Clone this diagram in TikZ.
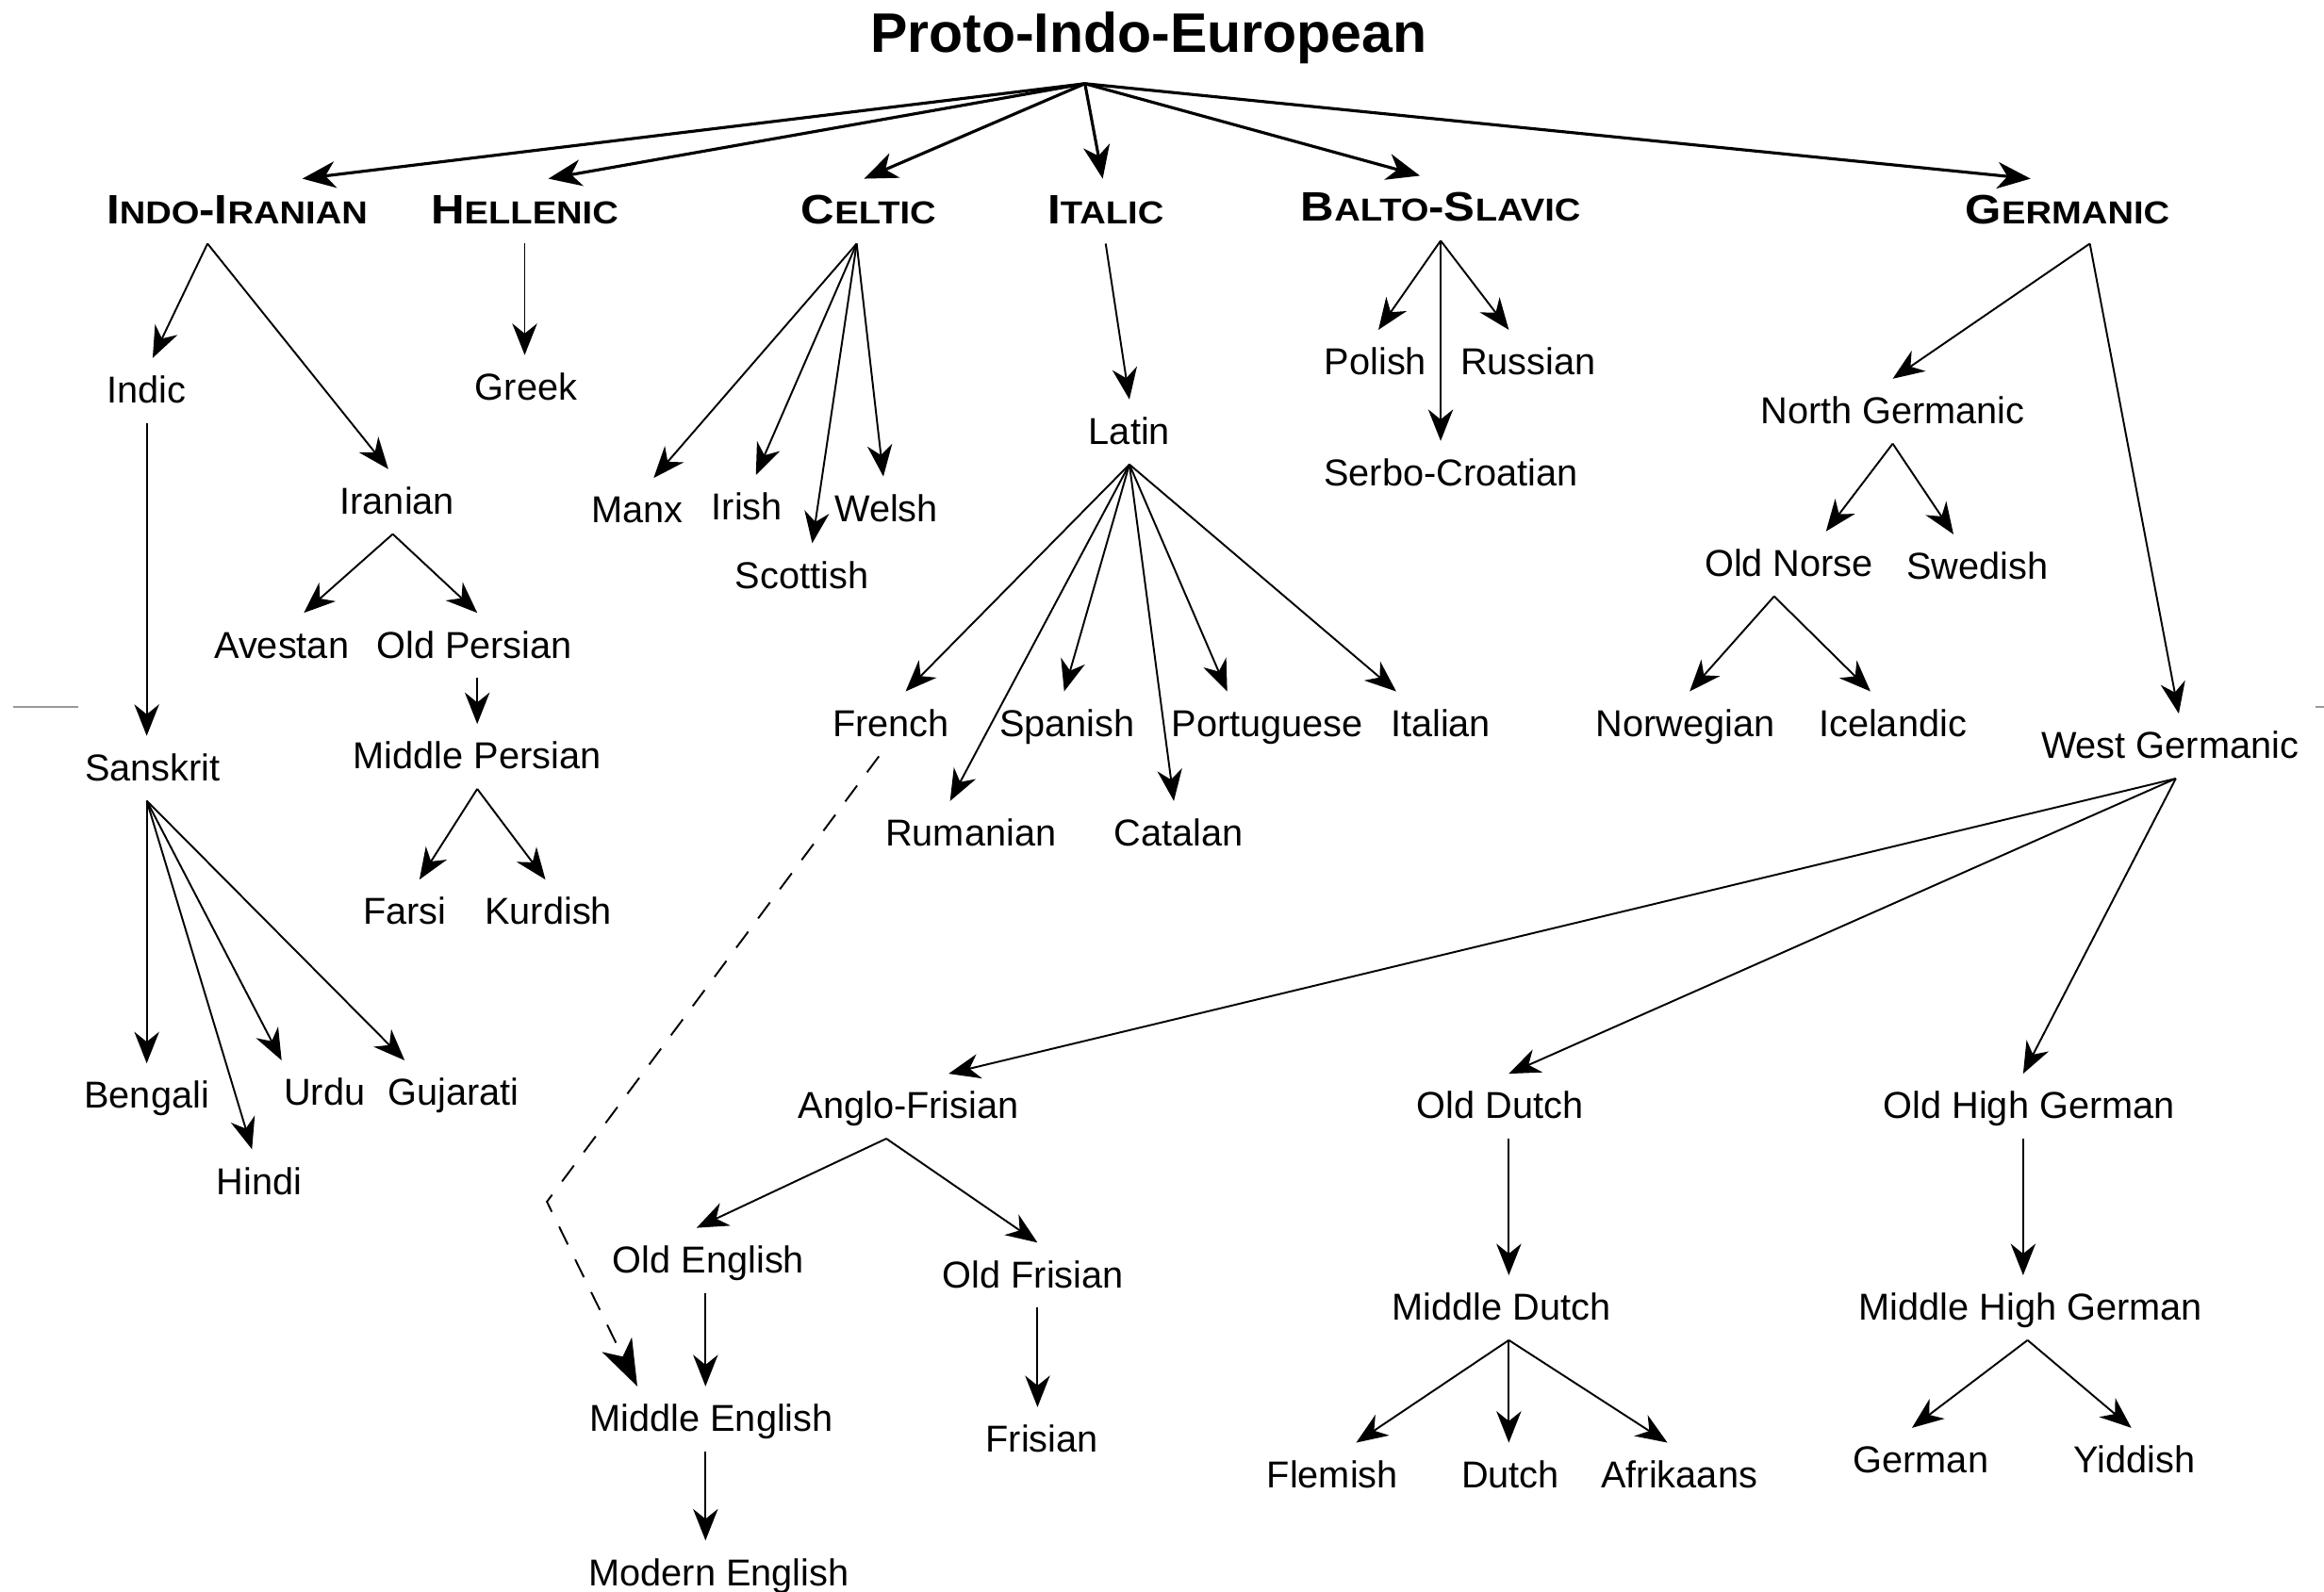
\documentclass[tikz,border=0pt]{standalone}
\usepackage{graphicx}
\usepackage{fontspec}
\setmainfont{Liberation Sans}
\usetikzlibrary{arrows.meta,calc}
\newcommand\smc[1]{{\fontsize{9.6}{10}\selectfont #1}}
\newcommand\hdr[1]{\scalebox{1.13}[1]{\bfseries\fontsize{12.4}{13}\selectfont #1}}
\newcommand\lnk[5][arr]{\draw[#1] ($(#2.south)+(#3,0)$) -- ($(#4.north)+(#5,0)$);}
\begin{document}
\begin{tikzpicture}[x=0.01572cm,y=-0.01572cm,
  lbl/.style={anchor=base,inner sep=0pt,text height=13.4pt,text depth=5.8pt,font=\fontsize{11.3}{13}\selectfont},
  hd/.style={lbl},
  arr/.style={line width=0.55pt,-{Stealth[length=9.5pt,width=7.5pt,inset=3pt]}},
  toparr/.style={line width=0.9pt,-{Stealth[length=10pt,width=8pt,inset=3pt]}},
  dasharr/.style={line width=0.55pt,dash pattern=on 6pt off 5pt,-{Stealth[length=14pt,width=10pt,inset=4pt]}},
  stray/.style={draw=black!40,line width=0.6pt}]
\useasboundingbox (0,0) rectangle (1568,1074);
% title
\node[anchor=base,inner sep=0pt,text height=13pt,text depth=9.4pt,font=\bfseries\fontsize{16.8}{18}\selectfont] (pie) at (775,35) {Proto-Indo-European};
% headers
\node[hd] (ii)  at (160,151) {\hdr{I\smc{NDO}-I\smc{RANIAN}}};
\node[hd] (hel) at (354,151) {\hdr{H\smc{ELLENIC}}};
\node[hd] (cel) at (586,151) {\hdr{C\smc{ELTIC}}};
\node[hd] (ita) at (746,151) {\hdr{I\smc{TALIC}}};
\node[hd] (bs)  at (972,149) {\hdr{B\smc{ALTO}-S\smc{LAVIC}}};
\node[hd] (ger) at (1395,151) {\hdr{G\smc{ERMANIC}}};
% Indo-Iranian
\node[lbl] (indic) at (99,272) {Indic};
\node[lbl] (iran)  at (268,347) {Iranian};
\node[lbl] (sans)  at (103,527) {Sanskrit};
\node[lbl] (ave)   at (190,444) {Avestan};
\node[lbl] (op)    at (320,444) {Old Persian};
\node[lbl] (mp)    at (322,519) {Middle Persian};
\node[lbl] (farsi) at (273,624) {Farsi};
\node[lbl] (kurd)  at (370,624) {Kurdish};
\node[lbl] (beng)  at (99,748) {Bengali};
\node[lbl] (hindi) at (175,806) {Hindi};
\node[lbl] (urdu)  at (219,746) {Urdu};
\node[lbl] (guj)   at (306,746) {Gujarati};
% Hellenic
\node[lbl] (greek) at (355,270) {Greek};
% Celtic
\node[lbl] (manx)  at (430,353) {Manx};
\node[lbl] (irish) at (504,351) {Irish};
\node[lbl] (scot)  at (541,397) {Scottish};
\node[lbl] (welsh) at (598,352) {Welsh};
% Italic
\node[lbl] (latin) at (762,300) {Latin};
\node[lbl] (french) at (601,497) {French};
\node[lbl] (span)  at (720,497) {Spanish};
\node[lbl] (port)  at (855,497) {Portuguese};
\node[lbl] (ital)  at (972,497) {Italian};
\node[lbl] (rum)   at (655,571) {Rumanian};
\node[lbl] (cat)   at (795,571) {Catalan};
% Balto-Slavic
\node[lbl] (pol)   at (928,253) {Polish};
\node[lbl] (rus)   at (1031,253) {Russian};
\node[lbl] (serb)  at (979,328) {Serbo-Croatian};
% Germanic
\node[lbl] (ng)    at (1277,286) {North Germanic};
\node[lbl] (wg)    at (1464,512) {West Germanic};
\node[lbl] (on)    at (1207,389) {Old Norse};
\node[lbl] (swe)   at (1334,391) {Swedish};
\node[lbl] (nor)   at (1137,497) {Norwegian};
\node[lbl] (ice)   at (1277,497) {Icelandic};
\node[lbl] (af)    at (613,755) {Anglo-Frisian};
\node[lbl] (od)    at (1012,755) {Old Dutch};
\node[lbl] (ohg)   at (1369,755) {Old High German};
\node[lbl] (oe)    at (478,859) {Old English};
\node[lbl] (ofr)   at (697,869) {Old Frisian};
\node[lbl] (me)    at (480,966) {Middle English};
\node[lbl] (moe)   at (485,1070) {Modern English};
\node[lbl] (fris)  at (703,980) {Frisian};
\node[lbl] (md)    at (1013,891) {Middle Dutch};
\node[lbl] (flem)  at (899,1004) {Flemish};
\node[lbl] (dutch) at (1019,1004) {Dutch};
\node[lbl] (afr)   at (1133,1004) {Afrikaans};
\node[lbl] (mhg)   at (1370,891) {Middle High German};
\node[lbl] (gerl)  at (1296,994) {German};
\node[lbl] (yid)   at (1440,994) {Yiddish};
% top arrows
\lnk[toparr]{pie}{-43}{ii}{44}
\lnk[toparr]{pie}{-43}{hel}{16}
\lnk[toparr]{pie}{-43}{cel}{-3}
\lnk[toparr]{pie}{-43}{ita}{-2}
\lnk[toparr]{pie}{-43}{bs}{-14}
\lnk[toparr]{pie}{-43}{ger}{-25}
% Indo-Iranian
\lnk{ii}{-20}{indic}{4}
\lnk{ii}{-20}{iran}{-6}
\lnk{indic}{0}{sans}{-4}
\lnk{iran}{-3}{ave}{15}
\lnk{iran}{-3}{op}{2}
\lnk{op}{2}{mp}{0}
\lnk{mp}{0}{farsi}{10}
\lnk{mp}{0}{kurd}{-2}
\lnk{sans}{-4}{beng}{0}
\lnk{sans}{-4}{hindi}{-5}
\lnk{sans}{-4}{urdu}{-29}
\lnk{sans}{-4}{guj}{-33}
% Hellenic
\lnk{hel}{0}{greek}{-1}
% Celtic
\lnk{cel}{-8}{manx}{11}
\lnk{cel}{-8}{irish}{6}
\lnk{cel}{-8}{scot}{7}
\lnk{cel}{-8}{welsh}{-2}
% Italic
\lnk{ita}{0}{latin}{0}
\lnk{latin}{0}{french}{10}
\lnk{latin}{0}{rum}{-14}
\lnk{latin}{0}{span}{-2}
\lnk{latin}{0}{cat}{-3}
\lnk{latin}{0}{port}{-27}
\lnk{latin}{0}{ital}{-30}
% Balto-Slavic
\lnk{bs}{0}{pol}{2}
\lnk{bs}{0}{rus}{-13}
\lnk{bs}{0}{serb}{-7}
% Germanic
\lnk{ger}{15}{ng}{0}
\lnk{ger}{15}{wg}{6}
\lnk{ng}{0}{on}{25}
\lnk{ng}{0}{swe}{-16}
\lnk{on}{-10}{nor}{3}
\lnk{on}{-10}{ice}{-15}
\lnk{wg}{4}{af}{27}
\lnk{wg}{4}{od}{6}
\lnk{wg}{4}{ohg}{-4}
\lnk{af}{-15}{oe}{-8}
\lnk{af}{-15}{ofr}{3}
\lnk{oe}{-2}{me}{-4}
\lnk{me}{-4}{moe}{-9}
\lnk{ofr}{3}{fris}{-3}
\lnk{od}{6}{md}{5}
\lnk{md}{5}{flem}{16}
\lnk{md}{5}{dutch}{-1}
\lnk{md}{5}{afr}{-8}
\lnk{ohg}{-4}{mhg}{-5}
\lnk{mhg}{-2}{gerl}{-6}
\lnk{mhg}{-2}{yid}{-2}
% French -> Middle English (dashed)
\coordinate (bend) at (369,811);
\draw[dasharr] ($(french.south)+(-8,0)$) -- (bend) -- ($(me.north)+(-50,0)$);
% stray marks
\draw[stray] (9,477) -- (53,477);
\draw[stray] (1562,477) -- (1568,477);
\end{tikzpicture}
\end{document}
